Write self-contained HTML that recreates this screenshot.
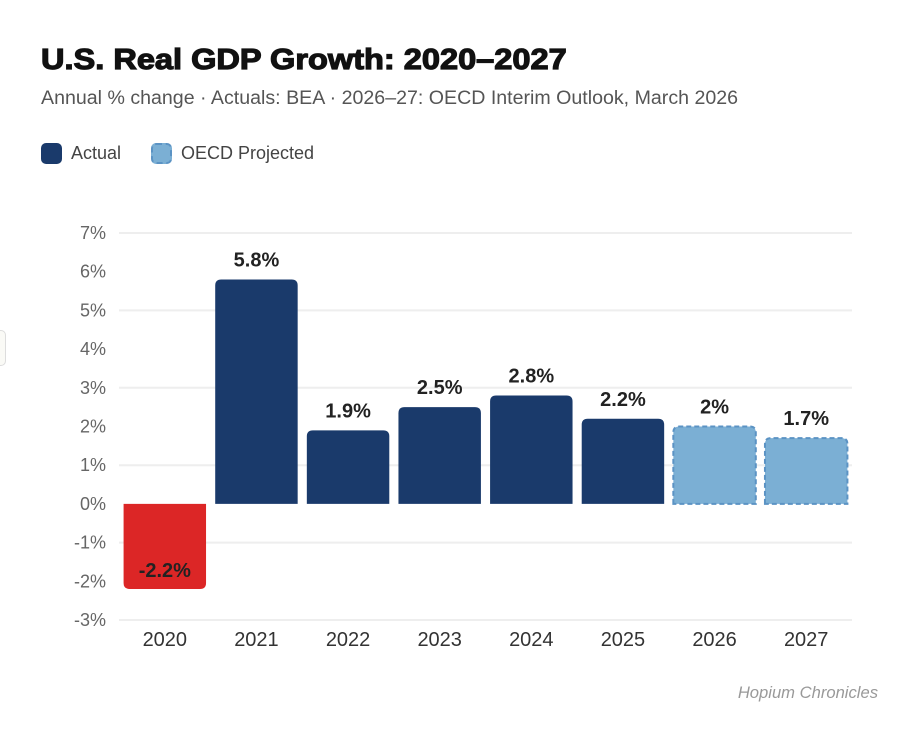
<!DOCTYPE html>
<html lang="en">
<head>
<meta charset="utf-8">
<title>U.S. Real GDP Growth: 2020–2027</title>
<style>
html,body{margin:0;padding:0;background:#fff;}
body{width:919px;height:735px;position:relative;overflow:hidden;font-family:"Liberation Sans",Arial,sans-serif;}
#title{position:absolute;left:41px;top:42px;margin:0;font-size:29px;line-height:36px;font-weight:700;color:#111;-webkit-text-stroke:1.2px #111;white-space:nowrap;transform:scaleX(1.122);transform-origin:0 0;}
#subtitle{position:absolute;left:41px;top:86px;font-size:19.6px;line-height:24px;color:#555;white-space:nowrap;}
.leg{position:absolute;top:141px;height:24px;line-height:24px;font-size:18px;color:#444;white-space:nowrap;}
.sw{position:absolute;left:0;top:2px;width:21px;height:21px;border-radius:5px;box-sizing:border-box;}
#side-tab{position:absolute;left:-20px;top:330px;width:26px;height:36px;box-sizing:border-box;background:#fafaf6;border:1px solid #ddd;border-radius:5px;}
#source{position:absolute;right:41px;top:682px;font-size:16.6px;line-height:22px;font-style:italic;color:#999;white-space:nowrap;}
svg{position:absolute;left:0;top:0;}
</style>
</head>
<body>
<h1 id="title">U.S. Real GDP Growth: 2020–2027</h1>
<div id="subtitle">Annual % change · Actuals: BEA · 2026–27: OECD Interim Outlook, March 2026</div>
<div class="leg" style="left:41px;padding-left:30px"><span class="sw" style="background:#1a3a6b"></span>Actual</div>
<div class="leg" style="left:151px;padding-left:30px"><span class="sw" style="background:#7bafd4;border:2px dashed #5b93c4"></span>OECD Projected</div>
<div id="side-tab"></div>
<svg id="chart" width="919" height="735" viewBox="0 0 919 735"></svg>
<div id="source">Hopium Chronicles</div>
<script>
const years = ['2020','2021','2022','2023','2024','2025','2026','2027'];
const growthValues = [-2.2,5.8,1.9,2.5,2.8,2.2,2,1.7];
const valueLabels = ['-2.2%','5.8%','1.9%','2.5%','2.8%','2.2%','2%','1.7%'];
const seriesKinds = ['negative','actual','actual','actual','actual','actual','projected','projected'];
const yTicks = [-3,-2,-1,0,1,2,3,4,5,6,7];
const yTickLabels = ['-3%','-2%','-1%','0%','1%','2%','3%','4%','5%','6%','7%'];
const gridTicks = [-3,-1,1,3,5,7];

const svg = document.getElementById('chart');
const NS = 'http://www.w3.org/2000/svg';
const plot = {left:119, right:852, top:233, bottom:620, min:-3, max:7};
function yScale(v){ return plot.bottom - (v - plot.min) / (plot.max - plot.min) * (plot.bottom - plot.top); }
function bandWidth(){ return (plot.right - plot.left) / years.length; }
function xCenter(i){ return plot.left + bandWidth() * (i + 0.5); }
function make(tag, attrs){
  const el = document.createElementNS(NS, tag);
  for (const k in attrs) el.setAttribute(k, attrs[k]);
  return el;
}
function barPath(x0, x1, y0, yEnd, r){
  const s = yEnd < y0 ? 1 : -1;
  return 'M' + x0 + ' ' + y0 +
    'L' + x0 + ' ' + (yEnd + s * r) +
    'Q' + x0 + ' ' + yEnd + ' ' + (x0 + r) + ' ' + yEnd +
    'L' + (x1 - r) + ' ' + yEnd +
    'Q' + x1 + ' ' + yEnd + ' ' + x1 + ' ' + (yEnd + s * r) +
    'L' + x1 + ' ' + y0 + 'Z';
}

gridTicks.forEach(function(t){
  const g = make('line', {x1:plot.left, x2:plot.right, y1:yScale(t), y2:yScale(t), stroke:'#eeeeee', 'stroke-width':2});
  
  
  svg.appendChild(g);
});

yTicks.forEach(function(t, i){
  const l = make('text', {x:106, y:yScale(t) + 6, 'text-anchor':'end', 'font-size':18, fill:'#666', 'font-family':'"Liberation Sans",Arial,sans-serif'});
  l.textContent = yTickLabels[i];
  
  
  svg.appendChild(l);
});

const fills = {negative:'#dc2626', actual:'#1a3a6b', projected:'#7bafd4'};
growthValues.forEach(function(v, i){
  const w = bandWidth() * 0.9;
  const cx = xCenter(i);
  const kind = seriesKinds[i];
  const attrs = {d:barPath(cx - w / 2, cx + w / 2, yScale(0), yScale(v), 6), fill:fills[kind]};
  if (kind === 'projected') {
    attrs.stroke = '#5b93c4';
    attrs['stroke-width'] = 2;
    attrs['stroke-dasharray'] = '5 3';
  }
  const b = make('path', attrs);
  
  
  svg.appendChild(b);
});

growthValues.forEach(function(v, i){
  const off = v < 0 ? -12 : -13;
  const t = make('text', {x:xCenter(i), y:yScale(v) + off, 'text-anchor':'middle', 'font-size':20, 'font-weight':'700', fill:'#222', 'font-family':'"Liberation Sans",Arial,sans-serif'});
  t.textContent = valueLabels[i];
  
  
  svg.appendChild(t);
});

years.forEach(function(y, i){
  const t = make('text', {x:xCenter(i), y:646, 'text-anchor':'middle', 'font-size':20, fill:'#333', 'font-family':'"Liberation Sans",Arial,sans-serif'});
  t.textContent = y;
  
  
  svg.appendChild(t);
});
</script>
</body>
</html>
